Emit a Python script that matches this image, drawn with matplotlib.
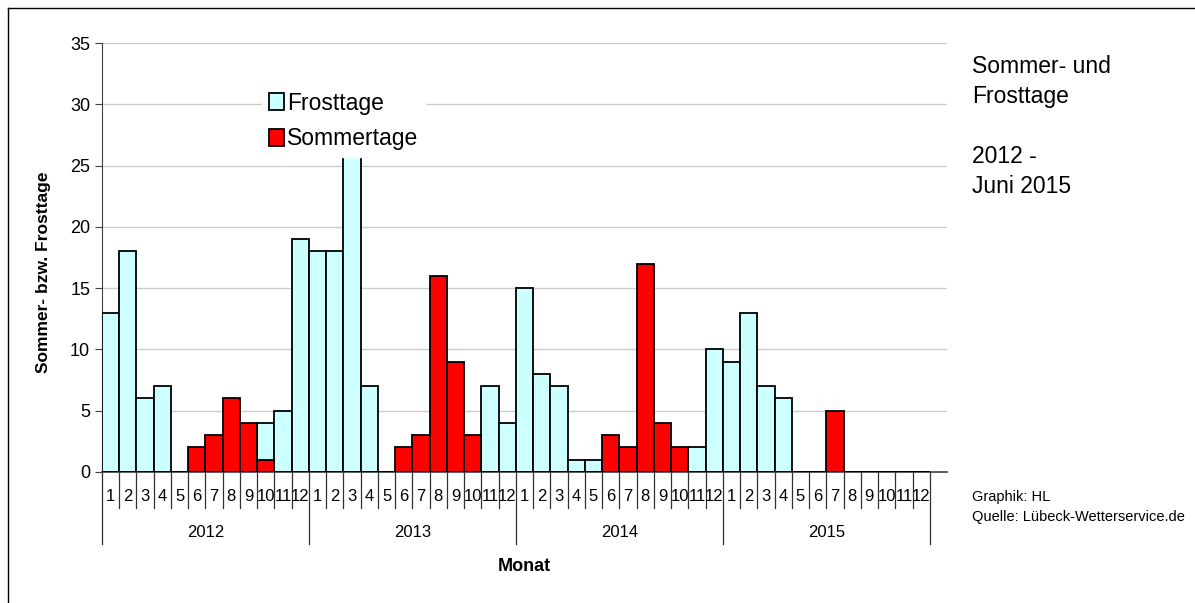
"""
Sommer- und Frosttage, Lübeck 2012 - Juni 2015
"""

import matplotlib
matplotlib.use("Agg")
import matplotlib.pyplot as plt
import matplotlib.transforms as mtransforms
from matplotlib.patches import Patch
from matplotlib.lines import Line2D

plt.rcParams['font.family'] = ['Liberation Sans', 'DejaVu Sans']

# Data (one value per month, Jan 2012 - Dec 2015)
years = ['2012', '2013', '2014', '2015']
months = [str(m) for m in range(1, 13)]
frosttage = [13, 18, 6, 7, 0, 0, 0, 0, 0, 4, 5, 19,
             18, 18, 27, 7, 0, 0, 0, 0, 0, 0, 7, 4,
             15, 8, 7, 1, 1, 0, 0, 0, 0, 0, 2, 10,
             9, 13, 7, 6, 0, 0, 0, 0, 0, 0, 0, 0]
sommertage = [0, 0, 0, 0, 0, 2, 3, 6, 4, 1, 0, 0,
              0, 0, 0, 0, 0, 2, 3, 16, 9, 3, 0, 0,
              0, 0, 0, 0, 0, 3, 2, 17, 4, 2, 0, 0,
              0, 0, 0, 0, 0, 0, 5, 0, 0, 0, 0, 0]

FROST_COL = '#CCFFFF'
SOMMER_COL = '#FF0000'

n = len(frosttage)
xpos = [i + 0.5 for i in range(n)]

fig = plt.figure(figsize=(11.95, 6.03), dpi=100)
ax = fig.add_axes([102 / 1195, 1 - 472 / 603, 845 / 1195, 429 / 603])

ax.bar(xpos, frosttage, width=1.0, color=FROST_COL, edgecolor='black', lw=1.3, zorder=3)
ax.bar(xpos, sommertage, width=1.0, color=SOMMER_COL, edgecolor='black', lw=1.3, zorder=4)

ax.set_xlim(0, n + 1)
ax.set_ylim(0, 35)
ax.set_yticks(range(0, 36, 5))
ax.tick_params(axis='y', labelsize=13, length=5, color='#404040', direction='out')
ax.set_xticks([])
ax.grid(axis='y', color='#CCCCCC', lw=1)
ax.set_axisbelow(True)
for s in ['top', 'right']:
    ax.spines[s].set_visible(False)
ax.spines['left'].set_color('#404040')
ax.spines['bottom'].set_color('#404040')
ax.spines['bottom'].set_linewidth(1.2)

ax.set_ylabel('Sommer- bzw. Frosttage', fontsize=12.5, fontweight='bold')
ax.yaxis.set_label_coords(-0.0605, 0.466)

# category axis: months and years
trans = mtransforms.blended_transform_factory(ax.transData, ax.transAxes)
for i in range(n + 1):
    if i % 12 == 0:
        ax.add_line(Line2D([i, i], [0, -0.168], transform=trans, color='#303030',
                           lw=0.9, clip_on=False))
    else:
        ax.add_line(Line2D([i, i], [0, -0.084], transform=trans, color='#303030',
                           lw=0.9, clip_on=False))
for i in range(n):
    ax.text(i + 0.5, -0.058, months[i % 12], transform=trans, ha='center', va='center',
            fontsize=12)
for k, y in enumerate(years):
    ax.text(12 * k + 6, -0.142, y, transform=trans, ha='center', va='center', fontsize=12)

fig.text(524 / 1195, 1 - 571 / 603, 'Monat', ha='center', va='baseline',
         fontsize=13, fontweight='bold')

# legend
handles = [Patch(facecolor=FROST_COL, edgecolor='black', lw=1.3, label='Frosttage'),
           Patch(facecolor=SOMMER_COL, edgecolor='black', lw=1.3, label='Sommertage')]
leg = ax.legend(handles=handles, loc='upper left',
                bbox_to_anchor=((262 - 102) / 845, (472 - 85) / 429),
                fontsize=16.5, frameon=True, facecolor='white', edgecolor='white',
                framealpha=1, fancybox=False, handlelength=0.65, handleheight=0.75,
                handletextpad=0.15, labelspacing=0.55, borderpad=0.3, borderaxespad=0)
leg.set_zorder(10)

# text on the right
fig.text(972 / 1195, 1 - 73 / 603, 'Sommer- und', fontsize=16.5, va='baseline')
fig.text(972 / 1195, 1 - 103 / 603, 'Frosttage', fontsize=16.5, va='baseline')
fig.text(972 / 1195, 1 - 163 / 603, '2012 -', fontsize=16.5, va='baseline')
fig.text(972 / 1195, 1 - 193 / 603, 'Juni 2015', fontsize=16.5, va='baseline')
fig.text(972 / 1195, 1 - 501 / 603, 'Graphik: HL', fontsize=10.5, va='baseline')
fig.text(972 / 1195, 1 - 521 / 603, 'Quelle: Lübeck-Wetterservice.de', fontsize=10.5,
         va='baseline')

# outer frame
fig.add_artist(Line2D([8 / 1195, 8 / 1195], [0, 1 - 8 / 603], transform=fig.transFigure,
                      color='black', lw=1))
fig.add_artist(Line2D([8 / 1195, 1], [1 - 8 / 603, 1 - 8 / 603], transform=fig.transFigure,
                      color='black', lw=1))

fig.savefig('out.png', dpi=100)
